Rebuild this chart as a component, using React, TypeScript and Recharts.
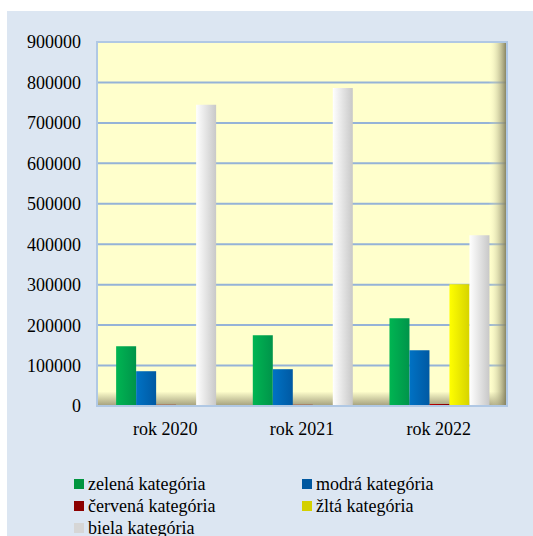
import { BarChart, Bar, XAxis, YAxis, CartesianGrid, ReferenceArea } from 'recharts'

// values
const years = ['rok 2020', 'rok 2021', 'rok 2022']
const zelena = [148000, 175000, 217000]
const modra = [86000, 91000, 138000]
const cervena = [3000, 3000, 5000]
const zlta = [0, 0, 301000]
const biela = [745000, 786000, 422000]
const yTicks = [0, 100000, 200000, 300000, 400000, 500000, 600000, 700000, 800000, 900000]

const series = [
  { key: 'zelena', name: 'zelená kategória', values: zelena, from: '#00b552', to: '#00944a', legend: '#00953f' },
  { key: 'modra', name: 'modrá kategória', values: modra, from: '#0072c4', to: '#0059a3', legend: '#0058a0' },
  { key: 'cervena', name: 'červená kategória', values: cervena, from: '#c00000', to: '#800000', legend: '#8b0000' },
  { key: 'zlta', name: 'žltá kategória', values: zlta, from: '#ffff00', to: '#d6d300', legend: '#d4d000' },
  { key: 'biela', name: 'biela kategória', values: biela, from: '#ffffff', to: '#c8c8c8', legend: '#d6d6d6' },
]

const data = years.map((year, i) => {
  const row: Record<string, string | number> = { year }
  series.forEach((s) => {
    row[s.key] = s.values[i]
  })
  return row
})

const font = "'Times New Roman', Times, Tinos, 'Liberation Serif', 'DejaVu Serif', 'Noto Serif', serif"

export default function App() {
  return (
    <div style={{ position: 'absolute', left: 0, top: 0, width: 533, height: 536, overflow: 'hidden', background: '#fff' }}>
      <div style={{ position: 'absolute', left: 7, top: 11, width: 526, height: 540, background: '#dce6f2', fontFamily: font }}>
        <BarChart
          width={526}
          height={430}
          data={data}
          margin={{ top: 31, right: 26, left: 0, bottom: 0 }}
          barCategoryGap="14%"
          barGap={0}
          style={{ fontFamily: font }}
        >
          <defs>
            <linearGradient id="floor" x1="0" y1="0" x2="0" y2="1">
              <stop offset="0%" stopColor="#ffffcc" />
              <stop offset="96%" stopColor="#ffffcc" />
              <stop offset="100%" stopColor="#a29e7c" />
            </linearGradient>
            <linearGradient id="wall" x1="0" y1="0" x2="1" y2="0">
              <stop offset="0%" stopColor="#ffffcc" stopOpacity={0} />
              <stop offset="95.5%" stopColor="#ffffcc" stopOpacity={0} />
              <stop offset="100%" stopColor="#7c7858" stopOpacity={1} />
            </linearGradient>
            {series.map((s) => (
              <linearGradient key={s.key} id={'g-' + s.key} x1="0" y1="0" x2="1" y2="0">
                <stop offset="0%" stopColor={s.from} />
                <stop offset="100%" stopColor={s.to} />
              </linearGradient>
            ))}
          </defs>
          <CartesianGrid vertical={false} stroke="#95b3d7" strokeWidth={2} fill="url(#floor)" fillOpacity={1} />
          <ReferenceArea y1={0} y2={900000} fill="url(#wall)" fillOpacity={1} stroke="#b0c8e4" strokeWidth={2} />
          <XAxis
            dataKey="year"
            height={35}
            tickSize={0}
            tickMargin={16}
            axisLine={{ stroke: '#b0c8e4', strokeWidth: 2 }}
            tick={{ fill: '#000', fontSize: 18, fontFamily: font }}
          />
          <YAxis
            width={90}
            domain={[0, 900000]}
            ticks={yTicks}
            interval={0}
            tickSize={0}
            tickMargin={16}
            axisLine={{ stroke: '#b0c8e4', strokeWidth: 2 }}
            tick={{ fill: '#000', fontSize: 18, fontFamily: font }}
          />
          {series.map((s) => (
            <Bar key={s.key} dataKey={s.key} name={s.name} fill={'url(#g-' + s.key + ')'} isAnimationActive={false} />
          ))}
        </BarChart>

        {/* legend, two columns */}
        <div
          style={{
            position: 'absolute',
            left: 67,
            top: 462,
            display: 'grid',
            gridTemplateColumns: '228px auto',
            gridAutoRows: '22px',
            fontSize: 18,
            color: '#000',
            fontFamily: font,
          }}
        >
          {series.map((s) => (
            <div key={s.key} style={{ display: 'flex', alignItems: 'center', whiteSpace: 'nowrap' }}>
              <span style={{ width: 10, height: 10, background: s.legend, marginRight: 4, display: 'inline-block' }} />
              <span>{s.name}</span>
            </div>
          ))}
        </div>
      </div>
    </div>
  )
}
